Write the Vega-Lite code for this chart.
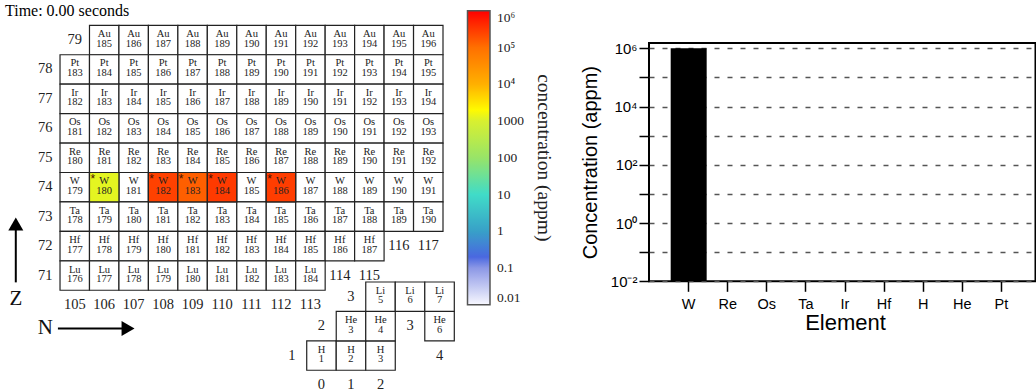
{
"$schema":"https://vega.github.io/schema/vega-lite/v6.json",
"background":"white",
"padding":{"left":5,"top":3,"right":0,"bottom":0},
"bounds":"flush",
"spacing":0,
"config":{"view":{"stroke":null}},
"hconcat":[
{
"width":644,"height":238.3,
"title":{"text":"Time: 0.00 seconds","anchor":"start","frame":"group","orient":"top","offset":-7.7,"baseline":"alphabetic","font":"Liberation Serif","fontSize":16,"fontWeight":"normal","color":"black"},
"resolve":{"scale":{"x":"independent","y":"independent"}},
"layer":[
{
"data":{"values":[
{"el":"Au","Z":79,"N":106,"A":185},{"el":"Au","Z":79,"N":107,"A":186},{"el":"Au","Z":79,"N":108,"A":187},{"el":"Au","Z":79,"N":109,"A":188},{"el":"Au","Z":79,"N":110,"A":189},{"el":"Au","Z":79,"N":111,"A":190},{"el":"Au","Z":79,"N":112,"A":191},{"el":"Au","Z":79,"N":113,"A":192},{"el":"Au","Z":79,"N":114,"A":193},{"el":"Au","Z":79,"N":115,"A":194},{"el":"Au","Z":79,"N":116,"A":195},{"el":"Au","Z":79,"N":117,"A":196},
{"el":"Pt","Z":78,"N":105,"A":183},{"el":"Pt","Z":78,"N":106,"A":184},{"el":"Pt","Z":78,"N":107,"A":185},{"el":"Pt","Z":78,"N":108,"A":186},{"el":"Pt","Z":78,"N":109,"A":187},{"el":"Pt","Z":78,"N":110,"A":188},{"el":"Pt","Z":78,"N":111,"A":189},{"el":"Pt","Z":78,"N":112,"A":190},{"el":"Pt","Z":78,"N":113,"A":191},{"el":"Pt","Z":78,"N":114,"A":192},{"el":"Pt","Z":78,"N":115,"A":193},{"el":"Pt","Z":78,"N":116,"A":194},{"el":"Pt","Z":78,"N":117,"A":195},
{"el":"Ir","Z":77,"N":105,"A":182},{"el":"Ir","Z":77,"N":106,"A":183},{"el":"Ir","Z":77,"N":107,"A":184},{"el":"Ir","Z":77,"N":108,"A":185},{"el":"Ir","Z":77,"N":109,"A":186},{"el":"Ir","Z":77,"N":110,"A":187},{"el":"Ir","Z":77,"N":111,"A":188},{"el":"Ir","Z":77,"N":112,"A":189},{"el":"Ir","Z":77,"N":113,"A":190},{"el":"Ir","Z":77,"N":114,"A":191},{"el":"Ir","Z":77,"N":115,"A":192},{"el":"Ir","Z":77,"N":116,"A":193},{"el":"Ir","Z":77,"N":117,"A":194},
{"el":"Os","Z":76,"N":105,"A":181},{"el":"Os","Z":76,"N":106,"A":182},{"el":"Os","Z":76,"N":107,"A":183},{"el":"Os","Z":76,"N":108,"A":184},{"el":"Os","Z":76,"N":109,"A":185},{"el":"Os","Z":76,"N":110,"A":186},{"el":"Os","Z":76,"N":111,"A":187},{"el":"Os","Z":76,"N":112,"A":188},{"el":"Os","Z":76,"N":113,"A":189},{"el":"Os","Z":76,"N":114,"A":190},{"el":"Os","Z":76,"N":115,"A":191},{"el":"Os","Z":76,"N":116,"A":192},{"el":"Os","Z":76,"N":117,"A":193},
{"el":"Re","Z":75,"N":105,"A":180},{"el":"Re","Z":75,"N":106,"A":181},{"el":"Re","Z":75,"N":107,"A":182},{"el":"Re","Z":75,"N":108,"A":183},{"el":"Re","Z":75,"N":109,"A":184},{"el":"Re","Z":75,"N":110,"A":185},{"el":"Re","Z":75,"N":111,"A":186},{"el":"Re","Z":75,"N":112,"A":187},{"el":"Re","Z":75,"N":113,"A":188},{"el":"Re","Z":75,"N":114,"A":189},{"el":"Re","Z":75,"N":115,"A":190},{"el":"Re","Z":75,"N":116,"A":191},{"el":"Re","Z":75,"N":117,"A":192},
{"el":"W","Z":74,"N":105,"A":179},{"el":"W","Z":74,"N":106,"A":180,"c":1200},{"el":"W","Z":74,"N":107,"A":181},{"el":"W","Z":74,"N":108,"A":182,"c":265000},{"el":"W","Z":74,"N":109,"A":183,"c":143100},{"el":"W","Z":74,"N":110,"A":184,"c":306400},{"el":"W","Z":74,"N":111,"A":185},{"el":"W","Z":74,"N":112,"A":186,"c":284300},{"el":"W","Z":74,"N":113,"A":187},{"el":"W","Z":74,"N":114,"A":188},{"el":"W","Z":74,"N":115,"A":189},{"el":"W","Z":74,"N":116,"A":190},{"el":"W","Z":74,"N":117,"A":191},
{"el":"Ta","Z":73,"N":105,"A":178},{"el":"Ta","Z":73,"N":106,"A":179},{"el":"Ta","Z":73,"N":107,"A":180},{"el":"Ta","Z":73,"N":108,"A":181},{"el":"Ta","Z":73,"N":109,"A":182},{"el":"Ta","Z":73,"N":110,"A":183},{"el":"Ta","Z":73,"N":111,"A":184},{"el":"Ta","Z":73,"N":112,"A":185},{"el":"Ta","Z":73,"N":113,"A":186},{"el":"Ta","Z":73,"N":114,"A":187},{"el":"Ta","Z":73,"N":115,"A":188},{"el":"Ta","Z":73,"N":116,"A":189},{"el":"Ta","Z":73,"N":117,"A":190},
{"el":"Hf","Z":72,"N":105,"A":177},{"el":"Hf","Z":72,"N":106,"A":178},{"el":"Hf","Z":72,"N":107,"A":179},{"el":"Hf","Z":72,"N":108,"A":180},{"el":"Hf","Z":72,"N":109,"A":181},{"el":"Hf","Z":72,"N":110,"A":182},{"el":"Hf","Z":72,"N":111,"A":183},{"el":"Hf","Z":72,"N":112,"A":184},{"el":"Hf","Z":72,"N":113,"A":185},{"el":"Hf","Z":72,"N":114,"A":186},{"el":"Hf","Z":72,"N":115,"A":187},
{"el":"Lu","Z":71,"N":105,"A":176},{"el":"Lu","Z":71,"N":106,"A":177},{"el":"Lu","Z":71,"N":107,"A":178},{"el":"Lu","Z":71,"N":108,"A":179},{"el":"Lu","Z":71,"N":109,"A":180},{"el":"Lu","Z":71,"N":110,"A":181},{"el":"Lu","Z":71,"N":111,"A":182},{"el":"Lu","Z":71,"N":112,"A":183},{"el":"Lu","Z":71,"N":113,"A":184}
]},
"encoding":{
"x":{"field":"N","type":"ordinal","scale":{"domain":[104,105,106,107,108,109,110,111,112,113,114,115,116,117],"range":[25.56,438],"paddingInner":0,"paddingOuter":0},"axis":null},
"y":{"field":"Z","type":"ordinal","scale":{"domain":[79,78,77,76,75,74,73,72,71,70],"range":[-17.7,276.7],"paddingInner":0,"paddingOuter":0},"axis":null}
},
"layer":[
{"mark":{"type":"rect","fill":"white","stroke":"#222","strokeWidth":1.2}},
{"transform":[{"filter":"datum.c > 0"}],
 "mark":{"type":"rect","stroke":"#222","strokeWidth":1.2,"opacity":1},
 "encoding":{"color":{"field":"c","type":"quantitative",
  "scale":{"type":"log","domain":[0.01,0.1,0.2,1,10,100,1000,1800,10000,100000,1000000],"range":["#f8f8ff","#8c98e6","#4a68e0","#38a0c8","#40dcc8","#98e468","#d8f030","#ffff00","#ffb000","#ff7000","#ff0000"],"interpolate":"rgb"},
  "legend":{"orient":"none","legendX":462.5,"legendY":-32.2,"direction":"vertical","gradientLength":294,"gradientThickness":22.5,"gradientStrokeColor":"#555","gradientStrokeWidth":1.5,
   "values":[1000000,100000,10000,1000,100,10,1,0.1,0.01],"format":"~g",
   "labelExpr":"datum.value == 1000000 ? '10\u2076' : datum.value == 100000 ? '10\u2075' : datum.value == 10000 ? '10\u2074' : datum.label",
   "labelFont":"Liberation Serif","labelFontSize":13.5,"labelColor":"#222","labelOffset":7,"labelOverlap":false,
   "title":"concentration (appm)","titleOrient":"right","titleFont":"Liberation Serif","titleFontSize":19.5,"titleFontWeight":"normal","titleColor":"#222","titlePadding":10,"padding":0,
   "encode":{"title":{"update":{"angle":{"value":-90},"baseline":{"value":"top"}}}}}}}},
{"mark":{"type":"text","dy":-6,"font":"Liberation Serif","fontSize":10.5,"color":"#222"},"encoding":{"text":{"field":"el"}}},
{"mark":{"type":"text","dy":3.5,"font":"Liberation Serif","fontSize":10.5,"color":"#222"},"encoding":{"text":{"field":"A"}}},
{"transform":[{"filter":"datum.c > 0"}],"mark":{"type":"text","text":"*","dx":-11.5,"dy":-8,"font":"Liberation Sans","fontSize":12,"color":"#4a1200"}},
{"data":{"values":[
{"t":"79","N":105,"Z":79},{"t":"78","N":104,"Z":78},{"t":"77","N":104,"Z":77},{"t":"76","N":104,"Z":76},{"t":"75","N":104,"Z":75},{"t":"74","N":104,"Z":74},{"t":"73","N":104,"Z":73},{"t":"72","N":104,"Z":72},{"t":"71","N":104,"Z":71},
{"t":"105","N":105,"Z":70},{"t":"106","N":106,"Z":70},{"t":"107","N":107,"Z":70},{"t":"108","N":108,"Z":70},{"t":"109","N":109,"Z":70},{"t":"110","N":110,"Z":70},{"t":"111","N":111,"Z":70},{"t":"112","N":112,"Z":70},{"t":"113","N":113,"Z":70},
{"t":"114","N":114,"Z":71},{"t":"115","N":115,"Z":71},{"t":"116","N":116,"Z":72},{"t":"117","N":117,"Z":72}
]},
 "mark":{"type":"text","font":"Liberation Serif","fontSize":14.5,"color":"#222"},"encoding":{"text":{"field":"t"}}}
]
},
{
"encoding":{
"x":{"field":"N","type":"quantitative","scale":{"domain":[104,117],"range":[40.25,423.23],"nice":false,"zero":false},"axis":null},
"y":{"field":"Z","type":"quantitative","scale":{"domain":[71,79],"range":[232.6,-3.0],"nice":false,"zero":false},"axis":null}
},
"layer":[
{"data":{"values":[{"N":103,"Z":70.77,"N2":103,"Z2":72.67},{"N":104.43,"Z":69.2,"N2":106.74,"Z2":69.2}]},
 "mark":{"type":"rule","strokeWidth":2,"color":"black"},"encoding":{"x2":{"field":"N2"},"y2":{"field":"Z2"}}},
{"data":{"values":[{"N":103,"Z":72.75,"dir":"Z"},{"N":106.81,"Z":69.2,"dir":"N"}]},
 "mark":{"type":"point","filled":true,"color":"black","size":225,"opacity":1},
 "encoding":{"shape":{"field":"dir","type":"nominal","scale":{"domain":["Z","N"],"range":["triangle-up","triangle-right"]},"legend":null}}},
{"data":{"values":[{"N":103,"Z":70.2,"label":"Z"},{"N":104,"Z":69.23,"label":"N"}]},
 "mark":{"type":"text","font":"Liberation Serif","fontSize":21,"color":"#111"},"encoding":{"text":{"field":"label"}}}
]
},
{
"data":{"values":[{"el":"H","Z":1,"N":0,"A":1},{"el":"H","Z":1,"N":1,"A":2},{"el":"H","Z":1,"N":2,"A":3},{"el":"He","Z":2,"N":1,"A":3},{"el":"He","Z":2,"N":2,"A":4},{"el":"He","Z":2,"N":4,"A":6},{"el":"Li","Z":3,"N":2,"A":5},{"el":"Li","Z":3,"N":3,"A":6},{"el":"Li","Z":3,"N":4,"A":7}]},
"encoding":{
"x":{"field":"N","type":"ordinal","scale":{"domain":[-1,0,1,2,3,4],"range":[272.2,449.3],"paddingInner":0,"paddingOuter":0},"axis":null},
"y":{"field":"Z","type":"ordinal","scale":{"domain":[3,2,1,0],"range":[239,356.7],"paddingInner":0,"paddingOuter":0},"axis":null}
},
"layer":[
{"mark":{"type":"rect","fill":"white","stroke":"#222","strokeWidth":1.2}},
{"mark":{"type":"text","dy":-6,"font":"Liberation Serif","fontSize":10.5,"color":"#222"},"encoding":{"text":{"field":"el"}}},
{"mark":{"type":"text","dy":3.5,"font":"Liberation Serif","fontSize":10.5,"color":"#222"},"encoding":{"text":{"field":"A"}}},
{"data":{"values":[{"t":"1","N":-1,"Z":1},{"t":"2","N":0,"Z":2},{"t":"3","N":1,"Z":3},{"t":"0","N":0,"Z":0},{"t":"1","N":1,"Z":0},{"t":"2","N":2,"Z":0},{"t":"3","N":3,"Z":2},{"t":"4","N":4,"Z":1}]},
 "mark":{"type":"text","font":"Liberation Serif","fontSize":14.5,"color":"#222"},"encoding":{"text":{"field":"t"}}}
]
}
]
},
{
"width":386.5,"height":238.3,
"view":{"stroke":"black","strokeWidth":2},
"data":{"values":[{"element":"W","concentration":1000000},{"element":"Re","concentration":0},{"element":"Os","concentration":0},{"element":"Ta","concentration":0},{"element":"Ir","concentration":0},{"element":"Hf","concentration":0},{"element":"H","concentration":0},{"element":"He","concentration":0},{"element":"Pt","concentration":0}]},
"transform":[{"filter":"datum.concentration > 0"}],
"mark":{"type":"bar","color":"black"},
"encoding":{
"x":{"field":"element","type":"nominal","sort":null,
 "scale":{"domain":["W","Re","Os","Ta","Ir","Hf","H","He","Pt"],"range":[0,392],"paddingInner":0.079,"paddingOuter":0.555},
 "axis":{"title":"Element","titleFont":"Liberation Sans","titleFontSize":22,"titleFontWeight":"normal","titleColor":"black","titlePadding":2,"labelFont":"Liberation Sans","labelFontSize":14.5,"labelColor":"black","labelAngle":0,"labelPadding":6,"tickSize":10,"tickWidth":1.5,"tickColor":"black","domain":false,"grid":false}},
"y":{"field":"concentration","type":"quantitative",
 "scale":{"type":"log","domain":[0.01,1520000],"nice":false},
 "axis":{"title":"Concentration (appm)","titleFont":"Liberation Sans","titleFontSize":20,"titleFontWeight":"normal","titleColor":"black","titlePadding":10,
  "values":[0.01,0.1,1,10,100,1000,10000,100000,1000000],
  "labelExpr":"datum.value == 1000000 ? '10\u2076' : datum.value == 10000 ? '10\u2074' : datum.value == 100 ? '10\u00b2' : datum.value == 1 ? '10\u2070' : datum.value == 0.01 ? '10\u207b\u00b2' : ''",
  "labelFont":"Liberation Sans","labelFontSize":15,"labelColor":"black","labelPadding":2,"labelFlush":false,"labelOverlap":false,
  "tickSize":10,"tickWidth":1.5,"tickColor":"black","domain":false,
  "grid":true,"gridDash":[5,8],"gridColor":"#555","gridWidth":1.5}},
"y2":{"datum":0.01}
}
}
]
}
